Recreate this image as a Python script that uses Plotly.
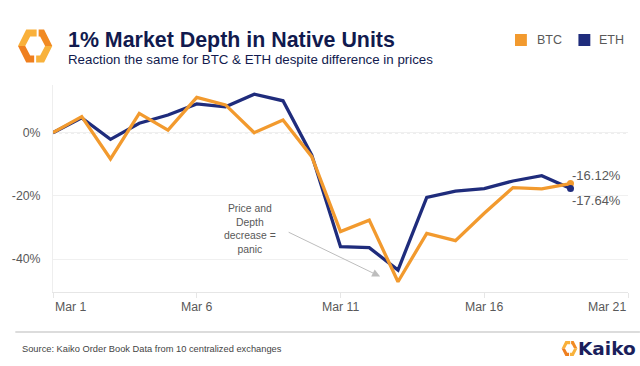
import plotly.graph_objects as go

# ---------------- data ----------------
dates = ["2020-03-01", "2020-03-02", "2020-03-03", "2020-03-04", "2020-03-05",
         "2020-03-06", "2020-03-07", "2020-03-08", "2020-03-09", "2020-03-10",
         "2020-03-11", "2020-03-12", "2020-03-13", "2020-03-14", "2020-03-15",
         "2020-03-16", "2020-03-17", "2020-03-18", "2020-03-19"]
btc = [0.0, 5.1, -8.3, 6.1, 0.8, 11.2, 8.8, 0.0, 4.0, -7.6,
       -31.3, -27.7, -47.2, -31.9, -34.2, -25.5, -17.4, -17.8, -16.12]
eth = [0.0, 4.7, -2.1, 3.0, 5.6, 9.1, 8.2, 12.2, 10.1, -7.1,
       -36.1, -36.4, -43.5, -20.5, -18.5, -17.7, -15.3, -13.6, -17.64]
x_tick_vals = ["2020-03-01", "2020-03-06", "2020-03-11", "2020-03-16", "2020-03-21"]
x_tick_text = ["Mar 1", "Mar 6", "Mar 11", "Mar 16", "Mar 21"]
y_tick_vals = [-40, -20, 0]
y_tick_text = ["-40%", "-20%", "0%"]

ORANGE = "#F29A2E"
NAVY = "#1F2C7C"
TITLE = "#111A4E"
GRAY = "#595959"
FONT = "Liberation Sans, Arial, sans-serif"

W, H = 640, 366
L, R, T, B = 48, 12, 85, 74
PW, PH = W - L - R, H - T - B


def px(x):
    return (x - L) / PW


def py(y):
    return (H - B - y) / PH


fig = go.Figure()
fig.add_trace(go.Scatter(x=dates, y=eth, mode="lines", name="ETH",
                         line=dict(color=NAVY, width=3.3)))
fig.add_trace(go.Scatter(x=dates, y=btc, mode="lines", name="BTC",
                         line=dict(color=ORANGE, width=3.3)))
fig.add_trace(go.Scatter(x=dates[-1:], y=btc[-1:], mode="markers",
                         marker=dict(color=ORANGE, size=7), showlegend=False))
fig.add_trace(go.Scatter(x=dates[-1:], y=eth[-1:], mode="markers",
                         marker=dict(color=NAVY, size=7), showlegend=False))

shapes = []
# dotted zero line
shapes.append(dict(type="line", xref="paper", x0=0, x1=1, yref="y", y0=0, y1=0,
                   line=dict(color="#BDBDBD", width=1.3, dash="dot"), layer="below"))
# footer rule
shapes.append(dict(type="line", xref="paper", yref="paper", x0=px(10), x1=px(640),
                   y0=py(332), y1=py(332), line=dict(color="#D0D0D0", width=1.5)))
# legend squares
shapes.append(dict(type="rect", xref="paper", yref="paper", x0=px(514), x1=px(526),
                   y0=py(34), y1=py(46), fillcolor=ORANGE, line=dict(width=0)))
shapes.append(dict(type="rect", xref="paper", yref="paper", x0=px(578), x1=px(590),
                   y0=py(34), y1=py(46), fillcolor=NAVY, line=dict(width=0)))


def logo(cx, cy, s):
    # hexagon ring split in four pieces, coordinates relative to centre
    pieces = [
        ([(1.5, -16.5), (-9, -16.5), (-17.3, 0), (-10, 0), (-5, -9.5), (1.5, -9.5)], "#F9B03A"),
        ([(-17.3, 0), (-9, 16.5), (-1, 16.5), (-1, 9.5), (-5, 9.5), (-10, 0)], "#EF7F1F"),
        ([(3.5, -16.5), (9, -16.5), (17.3, 0), (10, 0), (5, -9.5), (3.5, -9.5)], "#F18A22"),
        ([(17.3, 0), (9, 16.5), (1, 16.5), (1, 9.5), (5, 9.5), (10, 0)], "#F8B23C"),
    ]
    out = []
    for pts, col in pieces:
        path = "M " + " L ".join(f"{px(cx + s * a):.5f},{py(cy + s * b):.5f}" for a, b in pts) + " Z"
        out.append(dict(type="path", xref="paper", yref="paper", path=path,
                        fillcolor=col, line=dict(width=0)))
    return out


shapes += logo(30, 46, 1.0)
shapes += logo(569, 348.5, 0.46)

ann = []
ann.append(dict(text="<b>1% Market Depth in Native Units</b>", xref="paper", yref="paper",
                x=px(61), y=py(40.5), xanchor="left", yanchor="middle", showarrow=False,
                font=dict(family=FONT, size=21.4, color=TITLE)))
ann.append(dict(text="Reaction the same for BTC & ETH despite difference in prices",
                xref="paper", yref="paper", x=px(61), y=py(60), xanchor="left",
                yanchor="middle", showarrow=False,
                font=dict(family=FONT, size=13.3, color=TITLE)))
ann.append(dict(text="BTC", xref="paper", yref="paper", x=px(534), y=py(40.5),
                xanchor="left", yanchor="middle", showarrow=False,
                font=dict(family=FONT, size=12.5, color=GRAY)))
ann.append(dict(text="ETH", xref="paper", yref="paper", x=px(597), y=py(40.5),
                xanchor="left", yanchor="middle", showarrow=False,
                font=dict(family=FONT, size=12.5, color=GRAY)))
# x tick labels
for i, (v, t) in enumerate(zip(x_tick_vals, x_tick_text)):
    anchor = "left" if i == 0 else ("right" if i == len(x_tick_vals) - 1 else "center")
    ann.append(dict(text=t, xref="x", yref="paper", x=v, y=py(306.5), xanchor=anchor,
                    yanchor="middle", showarrow=False,
                    font=dict(family=FONT, size=12.3, color=GRAY)))
# end labels
ann.append(dict(text=f"{btc[-1]:.2f}%", xref="x", yref="y", x=dates[-1], y=btc[-1],
                xanchor="left", yanchor="middle", xshift=-1, yshift=8, showarrow=False,
                font=dict(family=FONT, size=13, color=GRAY)))
ann.append(dict(text=f"{eth[-1]:.2f}%", xref="x", yref="y", x=dates[-1], y=eth[-1],
                xanchor="left", yanchor="middle", xshift=-1, yshift=-12, showarrow=False,
                font=dict(family=FONT, size=13, color=GRAY)))
# callout
ann.append(dict(text="Price and<br>Depth<br>decrease =<br>panic", xref="paper", yref="paper",
                x=px(247), y=py(229), xanchor="center", yanchor="middle", showarrow=False,
                align="center", font=dict(family=FONT, size=10.4, color=GRAY)))
ann.append(dict(text="", xref="paper", yref="paper", x=px(378), y=py(276.5),
                ax=-93, ay=-45, showarrow=True, arrowhead=2, arrowsize=1.6,
                arrowwidth=1, arrowcolor="#BDBDBD"))
# footer
ann.append(dict(text="Source: Kaiko Order Book Data from 10 centralized exchanges",
                xref="paper", yref="paper", x=px(15), y=py(348.5), xanchor="left",
                yanchor="middle", showarrow=False,
                font=dict(family=FONT, size=9.3, color="#444444")))
ann.append(dict(text="<b>Kaiko</b>", xref="paper", yref="paper", x=px(576), y=py(348.5),
                xanchor="left", yanchor="middle", showarrow=False,
                font=dict(family="DejaVu Sans, sans-serif", size=18.5, color="#1B1F5C")))

fig.update_layout(
    width=W, height=H,
    margin=dict(l=L, r=R, t=T, b=B, pad=0),
    paper_bgcolor="white", plot_bgcolor="white",
    showlegend=False, hovermode=False,
    shapes=shapes, annotations=ann,
    font=dict(family=FONT, color=GRAY),
    xaxis=dict(range=["2020-03-01", "2020-03-21"], tickvals=x_tick_vals,
               showticklabels=False, showgrid=False, zeroline=False,
               showline=True, linecolor="#E6E6E6", linewidth=1,
               ticks="outside", ticklen=5, tickcolor="#E6E6E6"),
    yaxis=dict(range=[-50.45, 15.1], tickvals=y_tick_vals, ticktext=y_tick_text,
               showgrid=True, gridcolor="#F0F0F0", gridwidth=1, zeroline=False,
               showline=True, linecolor="#EEEEEE", linewidth=1,
               ticks="outside", ticklen=9, tickcolor="rgba(0,0,0,0)",
               tickfont=dict(family=FONT, size=12.3, color=GRAY)),
)

fig.write_html("out.html", config={"displayModeBar": False, "staticPlot": True},
               post_script="document.body.style.margin='0px';document.body.style.padding='0px';")
